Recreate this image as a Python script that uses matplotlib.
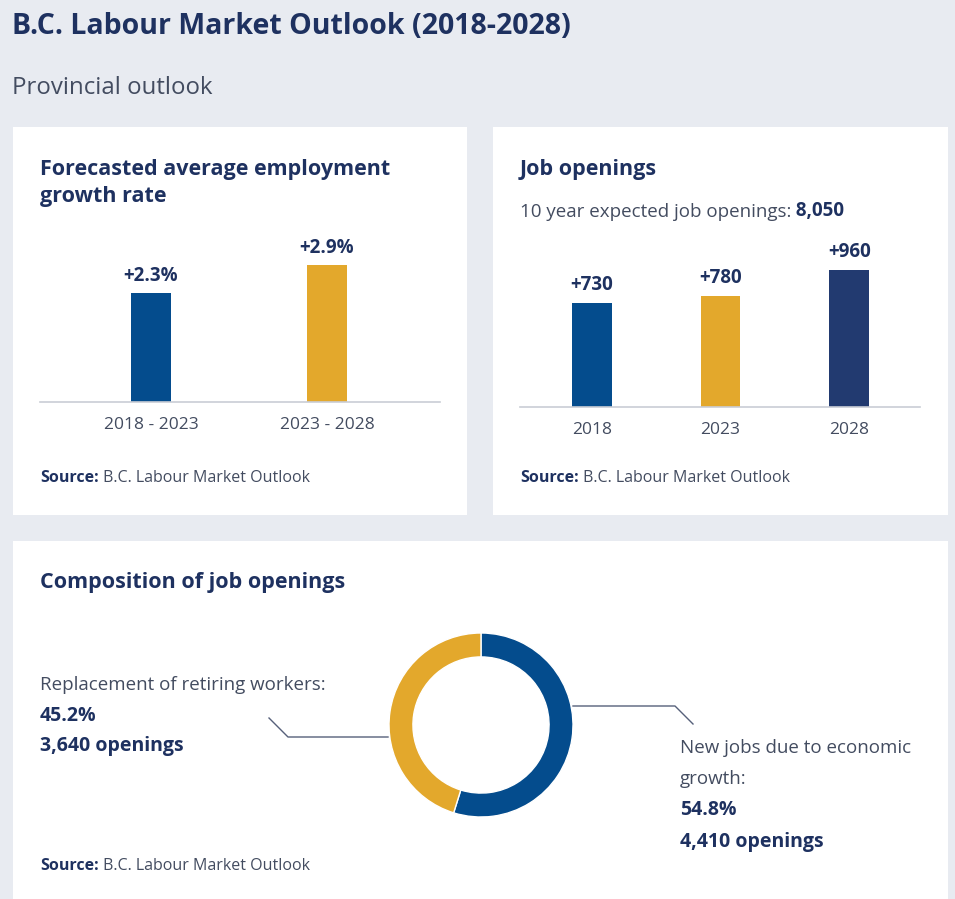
import matplotlib.pyplot as plt
from matplotlib.patches import Rectangle

plt.rcParams["font.family"] = ["Open Sans", "DejaVu Sans"]

W, H = 955, 899

# data
growth_periods = ["2018 - 2023", "2023 - 2028"]
growth_rates = [2.3, 2.9]
growth_labels = ["+2.3%", "+2.9%"]

opening_years = ["2018", "2023", "2028"]
openings = [730, 780, 960]
opening_labels = ["+730", "+780", "+960"]
total_openings = "8,050"

composition_names = ["New jobs due to economic\ngrowth:", "Replacement of retiring workers:"]
composition_shares = [54.8, 45.2]
composition_counts = ["4,410 openings", "3,640 openings"]

BG = "#e8ebf1"
NAVY = "#1e3160"
TEXT = "#434c60"
BLUE = "#044c8d"
GOLD = "#e3a82c"
DARK = "#223a70"
RULE = "#c9cdd5"


def px_axes(fig, x0, y0, x1, y1):
    # pixel box (top-left origin) -> figure axes
    return fig.add_axes([x0 / W, 1 - y1 / H, (x1 - x0) / W, (y1 - y0) / H])


fig = plt.figure(figsize=(W / 100, H / 100), dpi=100)
fig.patch.set_facecolor(BG)

canvas = fig.add_axes([0, 0, 1, 1])
canvas.set_xlim(0, W)
canvas.set_ylim(H, 0)
canvas.axis("off")

for x0, y0, x1, y1 in [(13, 127, 467, 515), (493, 127, 948, 515), (13, 541, 948, 905)]:
    canvas.add_patch(Rectangle((x0, y0), x1 - x0, y1 - y0, facecolor="white", edgecolor="none"))

canvas.text(12, 34, "B.C. Labour Market Outlook (2018-2028)", fontsize=20.5, fontweight="bold",
            color=NAVY, va="baseline")
canvas.text(12, 94, "Provincial outlook", fontsize=17.3, color=TEXT, va="baseline")


def source(x, y):
    t = canvas.text(x, y, "Source:", fontsize=11.5, fontweight="bold", color=NAVY, va="baseline")
    canvas.annotate(" B.C. Labour Market Outlook", xy=(1, 0), xycoords=t, fontsize=11.5,
                    color=TEXT, va="bottom")


def lines(x, y, text, step=31, **kw):
    for k, line in enumerate(text.split("\n")):
        canvas.text(x, y + k * step, line, va="baseline", **kw)


# panel 1
lines(40, 175, "Forecasted average employment\ngrowth rate", step=27, fontsize=15.5,
      fontweight="bold", color=NAVY)
source(40, 482)

ax1 = px_axes(fig, 40, 240, 440, 402)
ax1.bar(range(len(growth_rates)), growth_rates, width=0.227, color=[BLUE, GOLD])
for i, v in enumerate(growth_rates):
    ax1.annotate(growth_labels[i], xy=(i, v), xytext=(0, 12), textcoords="offset pixels",
                 ha="center", va="baseline", fontsize=13.5, fontweight="bold", color=NAVY)
ax1.set_xlim(-0.631, 1.642)
ax1.set_ylim(0, 162 / 47.4)
ax1.set_xticks(range(len(growth_periods)), growth_periods)

# panel 2
canvas.text(520, 175, "Job openings", fontsize=15.5, fontweight="bold", color=NAVY, va="baseline")
t = canvas.text(520, 217, "10 year expected job openings:", fontsize=13.5, color=TEXT,
                va="baseline")
canvas.annotate(" " + total_openings, xy=(1, 0), xycoords=t, fontsize=13.5, fontweight="bold",
                color=NAVY, va="bottom")
source(520, 482)

ax2 = px_axes(fig, 520, 240, 920, 407)
ax2.bar(range(len(openings)), openings, width=0.31, color=[BLUE, GOLD, DARK])
for i, v in enumerate(openings):
    ax2.annotate(opening_labels[i], xy=(i, v), xytext=(0, 13), textcoords="offset pixels",
                 ha="center", va="baseline", fontsize=13.5, fontweight="bold", color=NAVY)
ax2.set_xlim(-0.558, 2.55)
ax2.set_ylim(0, 167 / 0.1425)
ax2.set_xticks(range(len(opening_years)), opening_years)

for ax in (ax1, ax2):
    ax.set_facecolor("none")
    for s in ("top", "left", "right"):
        ax.spines[s].set_visible(False)
    ax.spines["bottom"].set_color(RULE)
    ax.spines["bottom"].set_linewidth(1.2)
    ax.set_yticks([])
    ax.tick_params(axis="x", length=0, pad=11, labelsize=12.5, labelcolor=TEXT)

# panel 3
canvas.text(40, 588, "Composition of job openings", fontsize=15.5, fontweight="bold",
            color=NAVY, va="baseline")
source(40, 870)

ax3 = px_axes(fig, 389, 633, 573, 817)
ax3.pie(composition_shares, colors=[BLUE, GOLD], startangle=90, counterclock=False,
        wedgeprops=dict(width=0.26, edgecolor="white", linewidth=1))
ax3.set_xlim(-1, 1)
ax3.set_ylim(-1, 1)
ax3.axis("off")

# leader lines
canvas.plot([573, 675, 693], [706, 706, 724], color="#56607a", lw=1)
canvas.plot([388, 288, 269], [737, 737, 718], color="#56607a", lw=1)

lines(40, 690, composition_names[1], fontsize=13.5, color=TEXT)
canvas.text(40, 721, f"{composition_shares[1]}%", fontsize=14, fontweight="bold", color=NAVY,
            va="baseline")
canvas.text(40, 751, composition_counts[1], fontsize=14, fontweight="bold", color=NAVY,
            va="baseline")

lines(680, 753, composition_names[0], fontsize=13.5, color=TEXT)
canvas.text(680, 815, f"{composition_shares[0]}%", fontsize=14, fontweight="bold", color=NAVY,
            va="baseline")
canvas.text(680, 847, composition_counts[0], fontsize=14, fontweight="bold", color=NAVY,
            va="baseline")

fig.savefig("out.png", dpi=100, facecolor=BG)
